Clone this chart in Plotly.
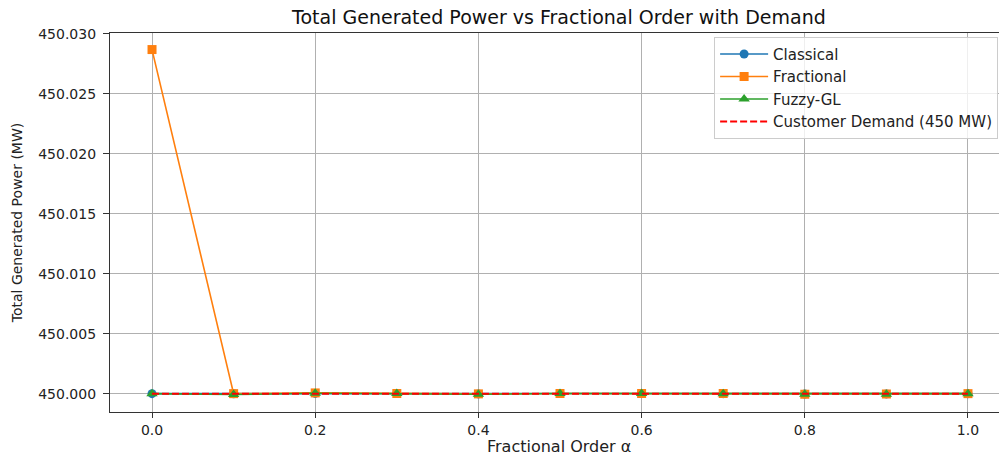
import plotly.graph_objects as go

alpha = [0.0, 0.1, 0.2, 0.3, 0.4, 0.5, 0.6, 0.7, 0.8, 0.9, 1.0]
classical = [450.00000, 449.99999, 450.00002, 450.00001, 449.99998, 450.00001,
             450.00001, 450.00000, 449.99997, 449.99998, 450.00000]
fractional = [450.02867, 450.00000, 450.00006, 450.00001, 449.99998, 450.00001,
              450.00001, 450.00001, 449.99995, 449.99997, 450.00000]
fuzzy = [450.00000, 449.99993, 450.00003, 450.00001, 449.99995, 450.00001,
         450.00001, 450.00000, 449.99995, 449.99995, 450.00000]
demand_value = 450.0
yticks = [450.000, 450.005, 450.010, 450.015, 450.020, 450.025, 450.030]
xticks = [0.0, 0.2, 0.4, 0.6, 0.8, 1.0]

FONT = "DejaVu Sans"
fig = go.Figure()
fig.add_trace(go.Scatter(x=alpha, y=classical, mode="lines+markers", name="Classical",
                         line=dict(color="#1f77b4", width=1.6),
                         marker=dict(symbol="circle", size=9, color="#1f77b4")))
fig.add_trace(go.Scatter(x=alpha, y=fractional, mode="lines+markers", name="Fractional",
                         line=dict(color="#ff7f0e", width=1.6),
                         marker=dict(symbol="square", size=9, color="#ff7f0e")))
fig.add_trace(go.Scatter(x=alpha, y=fuzzy, mode="lines+markers", name="Fuzzy-GL",
                         line=dict(color="#2ca02c", width=1.6),
                         marker=dict(symbol="triangle-up", size=10, color="#2ca02c")))
fig.add_trace(go.Scatter(x=alpha, y=[demand_value] * len(alpha), mode="lines",
                         name="Customer Demand (450 MW)",
                         line=dict(color="#ff0000", width=2, dash="7px,3px")))

fig.update_layout(
    width=999, height=458,
    margin=dict(l=110, r=0, t=33, b=46),
    paper_bgcolor="white", plot_bgcolor="white",
    font=dict(family=FONT, size=14, color="#222"),
    title=dict(text="Total Generated Power vs Fractional Order with Demand",
               x=0.5595, xanchor="center", y=0.962, yanchor="middle",
               font=dict(family=FONT, size=19, color="#111")),
    legend=dict(x=0.999, xanchor="right", y=0.99, yanchor="top",
                bgcolor="rgba(255,255,255,0.8)", bordercolor="#cccccc", borderwidth=1,
                font=dict(family=FONT, size=15, color="#222"),
                itemwidth=48, tracegroupgap=0),
    showlegend=True,
    annotations=[dict(text="Fractional Order α", xref="paper", yref="paper",
                      x=(559 - 110) / 889, y=-(446 - 412) / 379,
                      xanchor="center", yanchor="middle", showarrow=False,
                      font=dict(family=FONT, size=16, color="#222"))],
)
fig.update_xaxes(range=[-0.0515, 1.038], tickvals=xticks,
                 ticktext=["0.0", "0.2", "0.4", "0.6", "0.8", "1.0"],
                 showgrid=True, gridcolor="#b0b0b0", gridwidth=1,
                 showline=True, linecolor="#333", linewidth=1.2, mirror=True,
                 ticks="outside", ticklen=5, tickcolor="#333", zeroline=False,
                 tickfont=dict(family=FONT, size=14, color="#222"))
fig.update_yaxes(range=[449.99847, 450.03005], tickvals=yticks,
                 ticktext=["%.3f" % v for v in yticks],
                 showgrid=True, gridcolor="#b0b0b0", gridwidth=1,
                 showline=True, linecolor="#333", linewidth=1.2, mirror=False,
                 ticks="outside", ticklen=6, tickcolor="#333", zeroline=False,
                 ticklabelstandoff=4,
                 tickfont=dict(family=FONT, size=14, color="#222"),
                 title=dict(text="Total Generated Power (MW)", standoff=12,
                            font=dict(family=FONT, size=14, color="#222")))
fig.write_html("out.html")
